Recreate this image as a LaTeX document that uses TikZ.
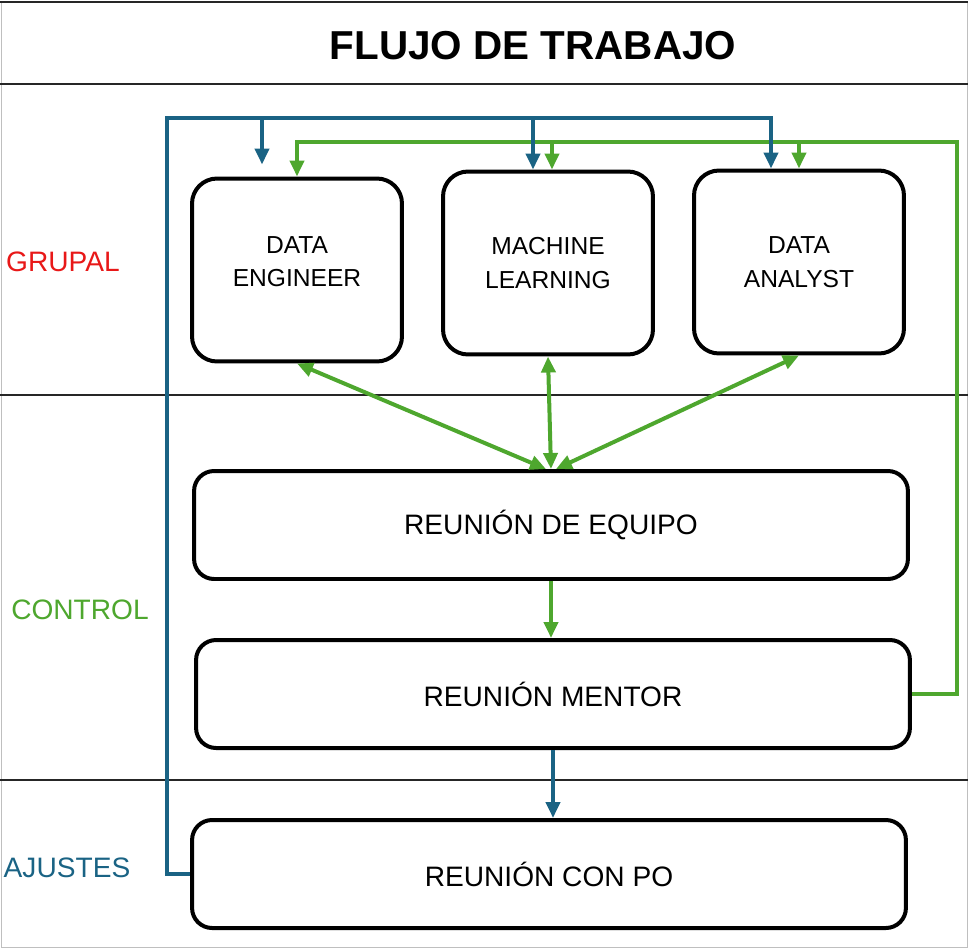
\documentclass[tikz,border=0pt]{standalone}
\usepackage{fontspec}
\setmainfont{Liberation Sans}
\usepackage{tikz}
\usetikzlibrary{arrows.meta}
\usetikzlibrary{positioning}
\definecolor{flowblue}{RGB}{26,99,132}
\definecolor{flowgreen}{RGB}{78,167,46}
\definecolor{flowred}{RGB}{232,24,24}
\tikzstyle{rolebox}=[draw,line width=0.08cm,rounded corners=0.5cm,minimum width=4.2cm,minimum height=3.66cm,align=center,font=\fontsize{14}{17}\selectfont]
\tikzstyle{meetbox}=[draw,line width=0.08cm,rounded corners=0.4cm,minimum width=14.28cm,minimum height=2.16cm,font=\fontsize{16}{19}\selectfont]
\tikzstyle{blueflow}=[flowblue,line width=0.08cm,-{Triangle[length=0.32cm,width=0.28cm]}]
\tikzstyle{greenflow}=[flowgreen,line width=0.08cm,-{Triangle[length=0.32cm,width=0.28cm]}]
\tikzstyle{sidelabel}=[font=\fontsize{16}{19}\selectfont]

\begin{document}
\begin{tikzpicture}[x=0.02cm,y=-0.02cm]
\useasboundingbox (0,0) rectangle (968,948);
\draw[black!25] (1,1) rectangle (967,947);
\draw[black!85,line width=0.03cm] (0,2) -- (968,2);
\draw[black!85,line width=0.04cm] (0,84) -- (968,84);
\draw[black!85,line width=0.03cm] (0,395) -- (968,395);
\draw[black!85,line width=0.03cm] (0,780) -- (968,780);

\node (title) at (533,46) {\bfseries\fontsize{23}{27}\selectfont FLUJO DE TRABAJO};
\node[sidelabel,text=flowred] (grupal) at (63,262) {GRUPAL};
\node[sidelabel,text=flowgreen] (control) at (80,610) {CONTROL};
\node[sidelabel,text=flowblue] (ajustes) at (67,868) {AJUSTES};

% roles
\node [rolebox,text depth=0.34cm] (de) at (297,270) {DATA\\[2pt]ENGINEER};
\node [rolebox] (ml) at (548,263) {MACHINE\\[2pt]LEARNING};
\node [rolebox] (da) at (799,262) {DATA\\[2pt]ANALYST};

% meetings
\node [meetbox] (re) at (551,525) {REUNIÓN DE EQUIPO};
\node [meetbox] (rm) at (553,694) {REUNIÓN MENTOR};
\node [meetbox] (po) at (549,874) {REUNIÓN CON PO};

\coordinate (gtop) at (957,142);
\coordinate (btop) at (167,118);

% green loop back from mentor
\draw[greenflow] (rm.east) -| (gtop) -| (de.north);
\draw[greenflow] ([xshift=0.08cm]ml.north |- gtop) -- ([xshift=0.08cm]ml.north);
\draw[greenflow] (da.north |- gtop) -- (da.north);

% blue loop back from PO
\draw[blueflow] (po.west) -| (btop) -| ([xshift=-0.56cm]da.north);
\draw[blueflow] ([xshift=-0.7cm]de.north |- btop) -- ([xshift=-0.7cm,yshift=0.24cm]de.north);
\draw[blueflow] ([xshift=-0.3cm]ml.north |- btop) -- ([xshift=-0.3cm]ml.north);

% team meeting
\draw[greenflow,{Triangle[length=0.32cm,width=0.28cm]}-{Triangle[length=0.32cm,width=0.28cm]}] (de.south) -- ([xshift=-0.1cm]re.north);
\draw[greenflow,{Triangle[length=0.32cm,width=0.28cm]}-{Triangle[length=0.32cm,width=0.28cm]}] (ml.south) -- (re.north);
\draw[greenflow,{Triangle[length=0.32cm,width=0.28cm]}-{Triangle[length=0.32cm,width=0.28cm]}] (da.south) -- ([xshift=0.1cm]re.north);

\draw[greenflow] (re.south) -- (re.south |- rm.north);
\draw[blueflow] (rm.south) -- (rm.south |- po.north);
\end{tikzpicture}
\end{document}
